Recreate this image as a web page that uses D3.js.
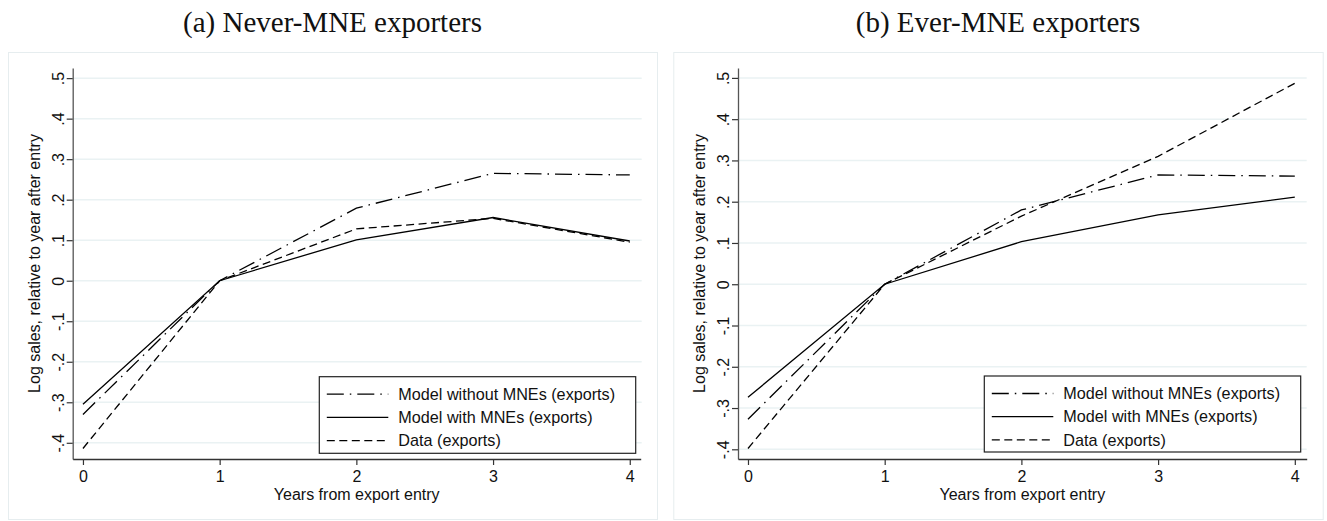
<!DOCTYPE html>
<html>
<head>
<meta charset="utf-8">
<script src="https://cdn.jsdelivr.net/npm/d3@7"></script>
<style>
  body { margin: 0; background: #fff; }
  svg { display: block; }
  .tick text { font-family: "Liberation Sans", Arial, sans-serif; }
</style>
</head>
<body>
<div id="chart"></div>
<script>

// DATA

const years = [0, 1, 2, 3, 4];
const yTicks = [-0.4, -0.3, -0.2, -0.1, 0, 0.1, 0.2, 0.3, 0.4, 0.5];
const yTickLabels = ['-.4', '-.3', '-.2', '-.1', '0', '.1', '.2', '.3', '.4', '.5'];
const seriesNames = ['Model without MNEs (exports)', 'Model with MNEs (exports)', 'Data (exports)'];

// (a) never-MNE exporters
const neverNoMne = [-0.330, 0, 0.179, 0.265, 0.261];
const neverMne = [-0.305, 0, 0.101, 0.156, 0.098];
const neverData = [-0.414, 0, 0.128, 0.154, 0.095];

// (b) ever-MNE exporters
const everNoMne = [-0.327, 0, 0.180, 0.265, 0.262];
const everMne = [-0.274, 0, 0.103, 0.168, 0.211];
const everData = [-0.398, 0, 0.165, 0.310, 0.487];

const dashes = ['17,6,1.5,6', null, '8,4.5'];

const width = 1327;
const height = 521;

const svg = d3.select('#chart')
    .append('svg')
        .attr('width', width)
        .attr('height', height);

drawPanel({
    title: '(a) Never-MNE exporters',
    frame: [8, 52, 657, 519],
    plot: {left: 72.7, right: 640.7, top: 68, bottom: 459},
    xDomain: [-0.075, 4.08],
    yDomain: [-0.44, 0.525],
    gridRight: 641.7,
    legend: [319.3, 376.7, 635.7, 453.3],
    series: [neverNoMne, neverMne, neverData]
});

drawPanel({
    title: '(b) Ever-MNE exporters',
    frame: [673.3, 52, 1322.7, 519],
    plot: {left: 738, right: 1306.7, top: 68, bottom: 459},
    xDomain: [-0.073, 4.087],
    yDomain: [-0.4235, 0.524],
    gridRight: 1306.7,
    legend: [984.3, 376, 1300.7, 452],
    series: [everNoMne, everMne, everData]
});

function drawPanel(cfg) {

    const g = svg.append('g');
    const [fx0, fy0, fx1, fy1] = cfg.frame;

    // frame
    g.append('rect')
        .attr('x', fx0 + 0.5)
        .attr('y', fy0 + 0.5)
        .attr('width', fx1 - fx0)
        .attr('height', fy1 - fy0)
        .attr('fill', '#fff')
        .attr('stroke', '#e6edef')
        .attr('stroke-width', 1);

    // title
    g.append('text')
        .attr('x', (fx0 + fx1) / 2)
        .attr('y', 31.5)
        .attr('text-anchor', 'middle')
        .attr('font-family', '"Liberation Serif", "Times New Roman", serif')
        .attr('font-size', 29)
        .attr('fill', '#111')
        .text(cfg.title);

    const p = cfg.plot;
    const x = d3.scaleLinear()
        .domain(cfg.xDomain)
        .range([p.left, p.right]);
    const y = d3.scaleLinear()
        .domain(cfg.yDomain)
        .range([p.bottom, p.top]);

    // grid
    g.append('g')
        .selectAll('line')
        .data(yTicks)
        .join('line')
            .attr('x1', p.left)
            .attr('x2', cfg.gridRight)
            .attr('y1', d => y(d))
            .attr('y2', d => y(d))
            .attr('stroke', '#eaf2f3')
            .attr('stroke-width', 1.5);

    // y axis
    g.append('g')
        .attr('transform', `translate(${p.left},0)`)
        .call(d3.axisLeft(y)
            .tickValues(yTicks)
            .tickFormat((d, i) => yTickLabels[i])
            .tickSize(6)
            .tickSizeOuter(0))
        .call(a => a.select('.domain').attr('stroke', '#555').attr('stroke-width', 1.3))
        .call(a => a.selectAll('.tick line').attr('stroke', '#333').attr('stroke-width', 1.2))
        .call(a => a.selectAll('.tick text')
            .attr('x', null)
            .attr('dy', null)
            .attr('font-size', 16)
            .attr('fill', '#111')
            .attr('text-anchor', 'middle')
            .attr('transform', 'translate(-9,0) rotate(-90)'));

    // x axis
    g.append('g')
        .attr('transform', `translate(0,${p.bottom})`)
        .call(d3.axisBottom(x)
            .tickValues(years)
            .tickFormat(d3.format('d'))
            .tickSize(6)
            .tickSizeOuter(0))
        .call(a => a.select('.domain').attr('stroke', '#333').attr('stroke-width', 1.3))
        .call(a => a.selectAll('.tick line').attr('stroke', '#333').attr('stroke-width', 1.2))
        .call(a => a.selectAll('.tick text')
            .attr('y', 23)
            .attr('dy', null)
            .attr('font-size', 16)
            .attr('fill', '#111'));

    // axis titles
    g.append('text')
        .attr('transform', `translate(${p.left - 33},${(p.top + p.bottom) / 2}) rotate(-90)`)
        .attr('text-anchor', 'middle')
        .attr('font-family', '"Liberation Sans", Arial, sans-serif')
        .attr('font-size', 16)
        .attr('fill', '#111')
        .text('Log sales, relative to year after entry');

    g.append('text')
        .attr('x', (p.left + p.right) / 2)
        .attr('y', 500)
        .attr('text-anchor', 'middle')
        .attr('font-family', '"Liberation Sans", Arial, sans-serif')
        .attr('font-size', 16)
        .attr('fill', '#111')
        .text('Years from export entry');

    // lines
    const l = d3.line()
        .x((d, i) => x(years[i]))
        .y(d => y(d));

    cfg.series.forEach((s, k) => {
        g.append('path')
            .datum(s)
                .attr('fill', 'none')
                .attr('stroke', '#000')
                .attr('stroke-width', 1.3)
                .attr('stroke-dasharray', dashes[k])
                .attr('d', l);
    });

    // legend
    const [lx0, ly0, lx1, ly1] = cfg.legend;
    g.append('rect')
        .attr('x', lx0)
        .attr('y', ly0)
        .attr('width', lx1 - lx0)
        .attr('height', ly1 - ly0)
        .attr('fill', '#fff')
        .attr('stroke', '#222')
        .attr('stroke-width', 1.2);

    seriesNames.forEach((name, k) => {
        const cy = ly0 + 17.5 + k * 23.2;
        g.append('line')
            .attr('x1', lx0 + 7.5)
            .attr('x2', lx0 + 69)
            .attr('y1', cy)
            .attr('y2', cy)
            .attr('stroke', '#000')
            .attr('stroke-width', 1.3)
            .attr('stroke-dasharray', dashes[k]);
        g.append('text')
            .attr('x', lx0 + 79)
            .attr('y', cy)
            .attr('dy', '0.35em')
            .attr('font-family', '"Liberation Sans", Arial, sans-serif')
            .attr('font-size', 16.2)
            .attr('fill', '#111')
            .text(name);
    });
}

</script>
</body>
</html>
